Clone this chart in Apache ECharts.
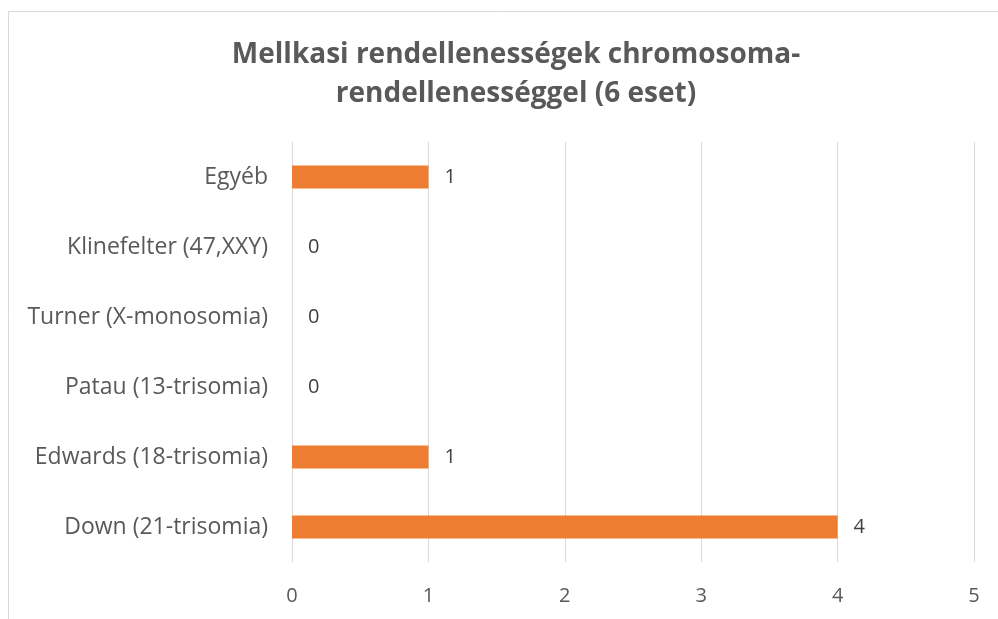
<!DOCTYPE html>
<html>
<head>
<meta charset="utf-8">
<script src="https://cdn.jsdelivr.net/npm/echarts@6/dist/echarts.min.js"></script>
<style>
  html, body { margin: 0; padding: 0; background: #fff; }
  #chart { width: 998px; height: 619px; }
</style>
</head>
<body>
<div id="chart"></div>
<script>
let chart = echarts.init(document.getElementById('chart'));

// kategóriák alulról felfelé
const categories = [
    'Down (21-trisomia)',
    'Edwards (18-trisomia)',
    'Patau (13-trisomia)',
    'Turner (X-monosomia)',
    'Klinefelter (47,XXY)',
    'Egyéb'
];
const cases = [4, 1, 0, 0, 0, 1];
const xTicks = [0, 1, 2, 3, 4, 5];

const font = '"Open Sans", Lato, sans-serif';

const option = {
    animation: false,
    backgroundColor: '#fff',
    title: {
        text: 'Mellkasi rendellenességek chromosoma-\nrendellenességgel (6 eset)',
        left: 511,
        top: 31,
        textAlign: 'center',
        textStyle: {
            fontFamily: font,
            fontSize: 28,
            fontWeight: 'bold',
            color: '#595959',
            lineHeight: 39
        }
    },
    graphic: [{
        type: 'rect',
        shape: { x: 8.5, y: 11.5, width: 1000, height: 620 },
        style: { fill: 'none', stroke: '#d9d9d9', lineWidth: 1 },
        silent: true
    }],
    grid: {
        left: 292,
        right: 24,
        top: 142,
        bottom: 57
    },
    xAxis: {
        type: 'value',
        min: xTicks[0],
        max: xTicks[xTicks.length - 1],
        interval: 1,
        axisLine: { show: false },
        axisTick: { show: false },
        axisLabel: {
            margin: 24,
            fontFamily: font,
            fontSize: 20,
            color: '#595959'
        },
        splitLine: { lineStyle: { color: '#d9d9d9', width: 1 } }
    },
    yAxis: {
        type: 'category',
        data: categories,
        axisLine: { show: false },
        axisTick: { show: false },
        axisLabel: {
            margin: 24,
            fontFamily: font,
            fontSize: 23,
            color: '#595959'
        }
    },
    series: [{
        type: 'bar',
        data: cases,
        barWidth: 23,
        itemStyle: { color: '#ED7D31' },
        label: {
            show: true,
            position: 'right',
            distance: 16,
            fontFamily: font,
            fontSize: 20,
            color: '#404040'
        }
    }]
};

chart.setOption(option);
</script>
</body>
</html>
